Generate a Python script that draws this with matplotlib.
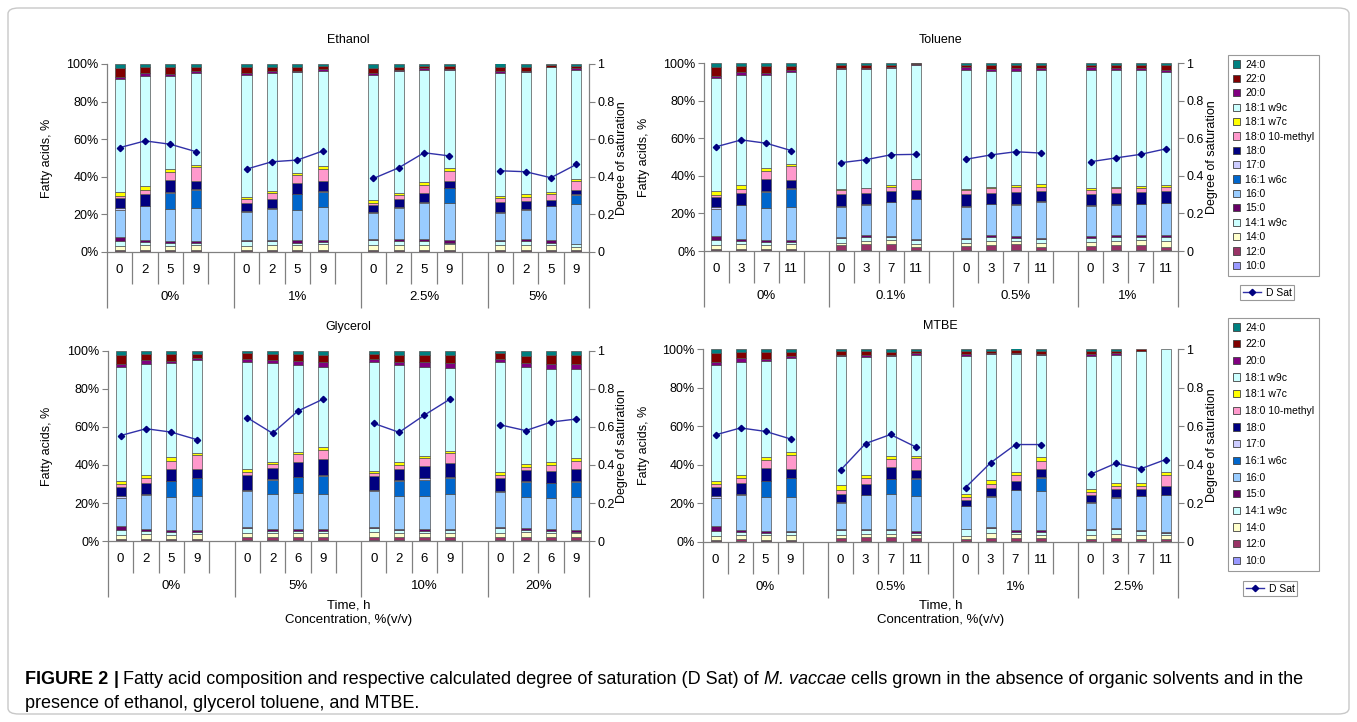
import matplotlib
matplotlib.use("Agg")
import matplotlib.pyplot as plt
from matplotlib.patches import Patch, FancyBboxPatch
from matplotlib.lines import Line2D
import numpy as np

plt.rcParams['font.family'] = ['Liberation Sans', 'DejaVu Sans']

# ---------------- data ----------------
ACIDS = ['10:0', '12:0', '14:0', '14:1 w9c', '15:0', '16:0', '16:1 w6c', '17:0',
         '18:0', '18:0 10-methyl', '18:1 w7c', '18:1 w9c', '20:0', '22:0', '24:0']
COLORS = ['#9999FF', '#993366', '#FFFFCC', '#CCFFFF', '#660066', '#99CCFF', '#0066CC',
          '#CCCCFF', '#000080', '#FF99CC', '#FFFF00', '#CCFFFF', '#800080', '#800000', '#008080']

# control (0%) bars, shared by all four panels
CONTROL_FA = [
    [0.4, 0.7, 1.9, 2.7, 2.4, 14.5, 0.0, 1.0, 5.0, 1.4, 1.8, 60.0, 1.4, 4.6, 2.2],
    [0.5, 0.8, 2.3, 1.8, 1.0, 18.0, 0.0, 0.3, 6.0, 2.3, 1.9, 58.5, 1.8, 3.0, 1.8],
    [0.4, 0.8, 2.2, 1.5, 1.0, 17.2, 8.4, 0.3, 6.3, 4.2, 1.7, 49.8, 0.9, 3.5, 1.8],
    [0.4, 0.8, 2.4, 1.4, 0.7, 17.8, 9.6, 0.2, 4.6, 7.3, 1.2, 48.8, 1.2, 1.8, 1.8],
]
CONTROL_DSAT = [0.555, 0.591, 0.573, 0.534]

ETHANOL_FA = CONTROL_FA + [
    [0.4, 0.8, 2.0, 2.7, 0.3, 15.2, 0.0, 0.3, 4.5, 1.9, 1.4, 64.8, 0.9, 3.0, 1.8],
    [0.4, 0.8, 2.3, 2.3, 0.8, 16.3, 0.0, 0.4, 5.0, 3.0, 1.4, 62.5, 0.9, 2.1, 1.8],
    [0.4, 0.8, 2.5, 1.3, 1.2, 16.4, 8.0, 0.3, 5.6, 4.4, 1.3, 53.3, 0.6, 2.1, 1.8],
    [0.4, 0.8, 2.8, 1.5, 1.1, 17.4, 8.1, 0.3, 5.4, 6.4, 1.6, 50.6, 0.8, 1.6, 1.2],
    [0.4, 0.8, 2.4, 3.0, 0.5, 13.7, 0.0, 0.6, 3.7, 1.1, 1.4, 66.7, 0.9, 2.7, 2.1],
    [0.4, 0.8, 2.7, 2.2, 0.7, 16.7, 0.0, 0.3, 4.2, 2.1, 1.4, 64.9, 0.6, 1.4, 1.6],
    [0.4, 0.8, 2.7, 1.8, 1.0, 19.6, 0.0, 0.3, 5.0, 3.9, 1.5, 60.0, 0.9, 1.2, 0.9],
    [0.3, 0.8, 2.9, 1.0, 1.2, 20.0, 7.6, 0.5, 3.6, 5.3, 1.3, 52.5, 0.4, 1.7, 0.9],
    [0.4, 0.8, 2.4, 2.3, 0.3, 14.8, 0.0, 0.4, 5.3, 1.8, 1.4, 65.1, 1.4, 2.1, 1.8],
    [0.4, 0.8, 2.7, 2.2, 0.9, 15.5, 0.0, 0.3, 4.3, 2.2, 1.4, 65.0, 0.7, 1.8, 1.8],
    [0.4, 0.8, 2.5, 1.2, 1.3, 18.2, 0.0, 0.3, 2.9, 3.4, 1.0, 66.2, 0.3, 0.8, 0.7],
    [0.3, 0.6, 1.8, 1.4, 0.3, 20.9, 4.9, 0.4, 2.3, 4.8, 1.1, 58.2, 0.9, 1.2, 0.9],
]
ETHANOL_DSAT = CONTROL_DSAT + [0.441, 0.480, 0.489, 0.537,
                               0.391, 0.448, 0.528, 0.511,
                               0.432, 0.427, 0.395, 0.466]
ETHANOL_GROUPS = ['0%', '1%', '2.5%', '5%']
ETHANOL_TIMES = [['0', '2', '5', '9']] * 4

TOLUENE_FA = CONTROL_FA + [
    [0.5, 2.5, 1.4, 2.5, 0.6, 16.0, 0.0, 0.3, 6.3, 2.3, 0.5, 64.1, 0.6, 1.2, 1.2],
    [0.6, 3.0, 1.7, 2.2, 0.9, 16.3, 0.0, 0.3, 6.0, 2.3, 0.3, 63.4, 0.6, 1.5, 0.9],
    [0.5, 3.4, 1.8, 1.8, 0.7, 17.6, 0.0, 0.3, 5.8, 2.3, 0.9, 62.2, 0.4, 1.4, 0.9],
    [0.5, 1.6, 1.8, 2.1, 0.6, 21.0, 0.0, 0.3, 4.5, 5.7, 0.2, 60.8, 0.2, 0.5, 0.2],
    [0.4, 2.3, 1.7, 2.2, 0.5, 16.4, 0.0, 0.3, 6.3, 2.3, 0.6, 63.4, 1.3, 1.4, 0.9],
    [0.5, 2.5, 2.2, 2.3, 0.9, 16.5, 0.0, 0.3, 5.9, 2.5, 0.7, 61.6, 1.1, 1.8, 1.2],
    [0.6, 3.0, 1.7, 1.6, 0.9, 16.9, 0.0, 0.3, 6.5, 2.7, 0.9, 60.8, 1.4, 1.5, 1.2],
    [0.4, 1.7, 2.2, 2.3, 0.5, 19.1, 0.0, 0.3, 5.5, 2.2, 1.2, 61.0, 0.9, 1.5, 1.2],
    [0.4, 2.3, 2.1, 2.3, 0.7, 16.2, 0.0, 0.3, 5.8, 2.3, 0.9, 63.1, 1.3, 1.4, 0.9],
    [0.5, 2.5, 2.2, 2.3, 0.9, 16.3, 0.0, 0.3, 6.0, 2.3, 0.7, 62.4, 0.9, 1.8, 0.9],
    [0.5, 2.9, 2.3, 1.8, 0.9, 16.5, 0.0, 0.3, 6.3, 2.1, 1.1, 61.7, 0.9, 1.8, 0.9],
    [0.4, 1.7, 3.2, 2.2, 0.9, 16.9, 0.0, 0.3, 6.3, 1.9, 1.3, 60.1, 1.2, 2.4, 1.2],
]
TOLUENE_DSAT = CONTROL_DSAT + [0.470, 0.486, 0.512, 0.514,
                               0.488, 0.511, 0.528, 0.521,
                               0.475, 0.495, 0.514, 0.543]
TOLUENE_GROUPS = ['0%', '0.1%', '0.5%', '1%']
TOLUENE_TIMES = [['0', '3', '7', '11']] * 4

GLYCEROL_FA = CONTROL_FA + [
    [0.5, 1.8, 2.1, 2.6, 0.5, 19.0, 0.0, 0.3, 7.9, 1.6, 1.4, 56.5, 1.4, 3.2, 1.2],
    [0.4, 1.5, 2.5, 0.9, 1.0, 18.3, 7.5, 0.4, 5.7, 2.3, 1.3, 51.7, 1.8, 3.1, 1.6],
    [0.4, 1.5, 2.5, 1.0, 0.7, 19.0, 8.4, 0.3, 7.6, 4.2, 1.1, 45.9, 2.3, 3.5, 1.6],
    [0.4, 1.5, 2.5, 1.0, 0.7, 18.6, 9.7, 0.3, 8.5, 4.7, 1.4, 42.5, 2.6, 3.5, 2.1],
    [0.5, 1.8, 2.3, 2.5, 0.5, 18.8, 0.0, 0.3, 7.5, 1.4, 1.4, 57.0, 1.8, 2.8, 1.4],
    [0.4, 1.5, 2.5, 1.4, 0.5, 17.4, 7.9, 0.4, 5.9, 2.1, 1.4, 51.2, 1.8, 3.5, 2.1],
    [0.4, 1.5, 2.5, 1.0, 0.7, 17.8, 8.2, 0.9, 6.5, 4.0, 1.4, 46.9, 2.2, 3.9, 2.1],
    [0.4, 1.8, 2.1, 1.4, 0.8, 18.1, 8.4, 0.9, 7.0, 5.2, 1.3, 43.8, 2.3, 4.4, 2.1],
    [0.5, 1.8, 2.1, 2.3, 0.9, 18.4, 0.0, 0.3, 7.0, 1.4, 1.4, 57.9, 1.6, 3.2, 1.2],
    [0.4, 1.8, 2.3, 1.4, 0.8, 16.6, 7.6, 0.7, 5.8, 1.7, 1.4, 51.3, 1.7, 4.0, 2.5],
    [0.4, 1.5, 2.5, 1.0, 0.7, 16.7, 7.7, 0.2, 6.1, 3.2, 1.4, 49.0, 2.8, 4.7, 2.1],
    [0.4, 1.5, 2.1, 0.9, 0.9, 17.5, 7.9, 0.6, 5.9, 4.6, 1.6, 46.6, 2.7, 4.7, 2.1],
]
GLYCEROL_DSAT = CONTROL_DSAT + [0.649, 0.567, 0.684, 0.747,
                                0.619, 0.572, 0.663, 0.746,
                                0.611, 0.581, 0.626, 0.642]
GLYCEROL_GROUPS = ['0%', '5%', '10%', '20%']
GLYCEROL_TIMES = [['0', '2', '5', '9']] + [['0', '2', '6', '9']] * 3

MTBE_FA = CONTROL_FA + [
    [0.5, 1.6, 1.4, 2.6, 0.5, 13.6, 0.0, 0.4, 4.5, 1.7, 2.6, 67.0, 0.7, 1.9, 1.0],
    [0.5, 2.1, 1.7, 1.8, 0.8, 17.3, 0.0, 0.4, 5.7, 2.7, 1.9, 61.1, 0.9, 2.1, 1.0],
    [0.5, 1.9, 1.9, 1.8, 0.8, 18.2, 7.3, 0.5, 6.0, 4.0, 1.7, 51.8, 0.5, 1.7, 1.4],
    [0.4, 1.7, 1.7, 0.9, 0.8, 18.2, 8.8, 0.5, 4.2, 6.1, 1.5, 52.1, 0.9, 1.3, 0.9],
    [0.4, 1.3, 1.4, 3.5, 0.3, 11.6, 0.0, 0.3, 3.2, 1.4, 1.7, 71.5, 0.6, 1.7, 1.1],
    [0.4, 1.8, 2.5, 2.6, 0.5, 15.6, 0.0, 0.3, 4.5, 1.7, 2.1, 65.2, 0.9, 1.0, 0.9],
    [0.4, 1.7, 1.9, 1.4, 0.9, 20.4, 0.0, 0.4, 4.3, 3.1, 1.6, 61.4, 0.5, 1.5, 0.8],
    [0.4, 1.7, 1.6, 1.5, 0.9, 20.4, 6.9, 0.3, 4.0, 4.3, 1.8, 53.0, 0.6, 1.7, 0.9],
    [0.4, 1.3, 1.8, 2.6, 0.5, 13.6, 0.0, 0.4, 4.0, 1.4, 1.7, 68.7, 1.0, 1.6, 1.0],
    [0.4, 1.7, 2.2, 2.6, 0.5, 15.4, 0.0, 0.4, 4.1, 1.8, 1.7, 66.1, 0.9, 1.3, 0.9],
    [0.4, 1.3, 1.7, 2.3, 0.5, 17.5, 0.0, 0.3, 3.3, 1.8, 1.7, 68.2, 0.2, 0.8, 0.0],
    [0.4, 1.3, 1.7, 1.3, 0.5, 19.0, 0.0, 0.3, 4.6, 5.5, 1.7, 63.7, 0.0, 0.0, 0.0],
]
MTBE_DSAT = CONTROL_DSAT + [0.372, 0.510, 0.557, 0.493,
                            0.282, 0.410, 0.505, 0.505,
                            0.351, 0.407, 0.379, 0.427]
MTBE_GROUPS = ['0%', '0.5%', '1%', '2.5%']
MTBE_TIMES = [['0', '2', '5', '9']] + [['0', '3', '7', '11']] * 3

# ---------------- figure ----------------
W, H = 1357, 722
fig = plt.figure(figsize=(W / 100, H / 100), dpi=100)

def fx(x):
    return x / W

def fy(y):
    return 1 - y / H

GRAY = '#808080'
EDGE = '#505050'
LINEC = '#3030a8'

fig.patches.append(FancyBboxPatch((fx(8), fy(714)), fx(1341), (714 - 8) / H,
                                  boxstyle='round,pad=0,rounding_size=0.008',
                                  transform=fig.transFigure, facecolor='none',
                                  edgecolor='#c8c8c8', linewidth=1.0))


def panel(rect, fa, dsat, groups, times, title, title_y, ylab_x, dlab_x, short_len, long_len):
    l, t, r, b = rect
    ax = fig.add_axes([fx(l), fy(b), (r - l) / W, (b - t) / H])
    ax.set_xlim(0, 19)
    ax.set_ylim(0, 100)
    xs = [g * 5 + i + 0.5 for g in range(4) for i in range(4)]
    fa = np.array(fa)
    bottoms = np.zeros(len(xs))
    for k in range(len(ACIDS)):
        vals = fa[:, k]
        mask = vals > 0
        ax.bar(np.array(xs)[mask], vals[mask], bottom=bottoms[mask], width=0.4,
               color=COLORS[k], edgecolor=EDGE, linewidth=0.5, zorder=2)
        bottoms = bottoms + vals
    for s in ['top', 'right']:
        ax.spines[s].set_visible(False)
    for s in ['left', 'bottom']:
        ax.spines[s].set_color(GRAY)
        ax.spines[s].set_linewidth(0.9)
    ax.set_yticks(range(0, 101, 20))
    ax.set_yticklabels([f'{v}%' for v in range(0, 101, 20)], fontsize=9)
    ax.tick_params(axis='y', direction='out', length=4, color=GRAY, pad=2)
    ax.set_xticks([0, 5, 10, 15, 19])
    ax.set_xticks([i for i in range(1, 19) if i not in (5, 10, 15)], minor=True)
    ax.tick_params(axis='x', which='major', length=long_len, color=GRAY, width=0.9, labelbottom=False)
    ax.tick_params(axis='x', which='minor', length=short_len, color=GRAY, width=0.9, labelbottom=False)
    for x, lab in zip(xs, [tt for grp in times for tt in grp]):
        ax.annotate(lab, xy=(x, 0), xycoords=('data', 'axes fraction'), xytext=(0, -13),
                    textcoords='offset points', ha='center', va='center', fontsize=9.5)
    for g, lab in enumerate(groups):
        cx = g * 5 + 2.5 if g < 3 else 17.0
        ax.annotate(lab, xy=(cx, 0), xycoords=('data', 'axes fraction'), xytext=(0, -32.5),
                    textcoords='offset points', ha='center', va='center', fontsize=9.5)

    ax2 = ax.twinx()
    ax2.set_ylim(0, 1)
    for s in ['top', 'left', 'bottom']:
        ax2.spines[s].set_visible(False)
    ax2.spines['right'].set_color(GRAY)
    ax2.spines['right'].set_linewidth(0.9)
    ax2.set_yticks([0, 0.2, 0.4, 0.6, 0.8, 1.0])
    ax2.set_yticklabels(['0', '0.2', '0.4', '0.6', '0.8', '1'], fontsize=9)
    ax2.tick_params(axis='y', direction='out', length=4, color=GRAY, pad=2)
    for g in range(4):
        ax2.plot(xs[g * 4:(g + 1) * 4], dsat[g * 4:(g + 1) * 4], color=LINEC, lw=1.0,
                 marker='D', markersize=3.2, markerfacecolor='#000080',
                 markeredgecolor='#000080', zorder=5)

    fig.text(fx((l + r) / 2), fy(title_y), title, ha='center', va='center', fontsize=9)
    fig.text(fx(ylab_x), fy((t + b) / 2), 'Fatty acids, %', rotation=90,
             ha='center', va='center', fontsize=9)
    fig.text(fx(dlab_x), fy((t + b) / 2), 'Degree of saturation', rotation=90,
             ha='center', va='center', fontsize=9)
    return ax


panel((107, 64, 589, 252), ETHANOL_FA, ETHANOL_DSAT, ETHANOL_GROUPS, ETHANOL_TIMES,
      'Ethanol', 40, 47, 622, 23, 40)
panel((704, 63, 1178, 251), TOLUENE_FA, TOLUENE_DSAT, TOLUENE_GROUPS, TOLUENE_TIMES,
      'Toluene', 40, 644, 1212, 23, 40)
panel((108, 351, 589, 541), GLYCEROL_FA, GLYCEROL_DSAT, GLYCEROL_GROUPS, GLYCEROL_TIMES,
      'Glycerol', 327, 47, 622, 23, 40)
panel((703, 349, 1178, 542), MTBE_FA, MTBE_DSAT, MTBE_GROUPS, MTBE_TIMES,
      'MTBE', 326, 644, 1212, 23, 40)

for cx in (348.5, 940.5):
    fig.text(fx(cx), fy(605), 'Time, h', ha='center', va='center', fontsize=9.5)
    fig.text(fx(cx), fy(620), 'Concentration, %(v/v)', ha='center', va='center', fontsize=9.5)

# ---------------- legends ----------------
handles = [Patch(facecolor=COLORS[k], edgecolor='#404040', linewidth=0.6, label=ACIDS[k])
           for k in range(len(ACIDS) - 1, -1, -1)]
dsat_handle = [Line2D([], [], color=LINEC, lw=1.0, marker='D', markersize=3.2,
                      markerfacecolor='#000080', markeredgecolor='#000080', label='D Sat')]


def legend_block(corner, spacing, dcorner):
    leg = fig.legend(handles=handles, loc='upper left',
                     bbox_to_anchor=(fx(corner[0]), fy(corner[1])),
                     bbox_transform=fig.transFigure, fontsize=7.5,
                     frameon=True, fancybox=False, edgecolor='#808080',
                     handlelength=0.7, handleheight=0.7, handletextpad=0.5,
                     borderpad=0.45, borderaxespad=0, labelspacing=spacing)
    leg.get_frame().set_linewidth(0.8)
    leg2 = fig.legend(handles=dsat_handle, loc='upper left',
                      bbox_to_anchor=(fx(dcorner[0]), fy(dcorner[1])),
                      bbox_transform=fig.transFigure,
                      fontsize=7.5, frameon=True, fancybox=False, edgecolor='#808080',
                      handlelength=1.8, handletextpad=0.4, borderpad=0.25, borderaxespad=0)
    leg2.get_frame().set_linewidth(0.8)


legend_block((1228, 55), 0.42, (1240, 285))
legend_block((1228, 318), 0.64, (1243, 581))

# ---------------- caption ----------------
renderer = fig.canvas.get_renderer()
CAP_FS = 13


def put_pieces(pieces, x0, y):
    x = x0
    for txt, weight, style in pieces:
        if txt == ' ':
            sp = fig.text(0, 0, 'a a', fontsize=CAP_FS)
            sa = fig.text(0, 0, 'aa', fontsize=CAP_FS)
            w = sp.get_window_extent(renderer).width - sa.get_window_extent(renderer).width
            sp.remove()
            sa.remove()
            x += w / W
            continue
        tobj = fig.text(x, fy(y), txt, fontsize=CAP_FS, fontweight=weight, fontstyle=style,
                        ha='left', va='center')
        x += tobj.get_window_extent(renderer).width / W


put_pieces([('FIGURE 2', 'bold', 'normal'), (' ', None, None), ('|', 'bold', 'normal'),
            (' ', None, None),
            ('Fatty acid composition and respective calculated degree of saturation (D Sat) of',
             'normal', 'normal'), (' ', None, None),
            ('M. vaccae', 'normal', 'italic'), (' ', None, None),
            ('cells grown in the absence of organic solvents and in the', 'normal', 'normal')],
           fx(25), 679)
put_pieces([('presence of ethanol, glycerol toluene, and MTBE.', 'normal', 'normal')], fx(25), 703)

fig.savefig('out.png', dpi=100)
